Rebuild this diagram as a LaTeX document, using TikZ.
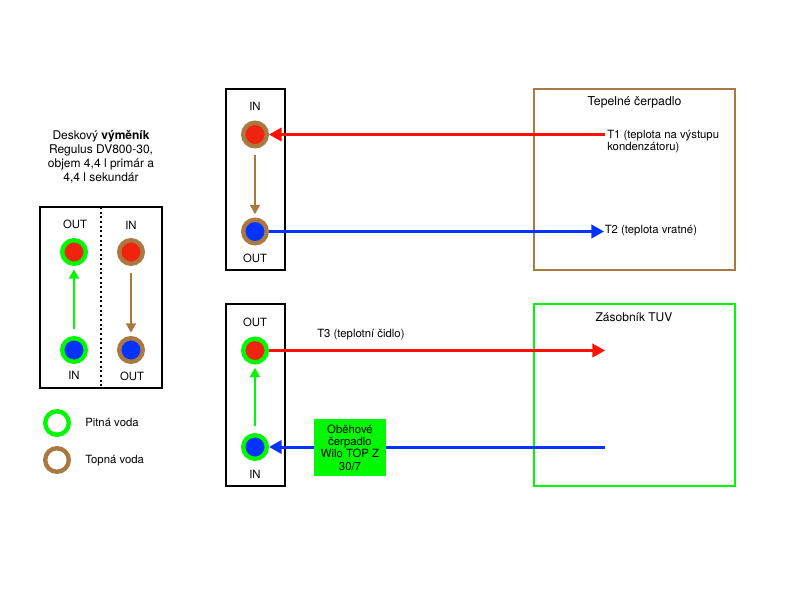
\documentclass[tikz,border=0pt]{standalone}
\usepackage{fontspec}
\setmainfont{TeX Gyre Heros}
\usetikzlibrary{arrows.meta}
\definecolor{cred}{HTML}{F0240E}
\definecolor{lred}{HTML}{FF1000}
\definecolor{cblue}{HTML}{0433FF}
\definecolor{cgreen}{HTML}{00F900}
\definecolor{cbrown}{HTML}{AA7942}
\begin{document}
\begin{tikzpicture}[x=0.75pt,y=-0.75pt,font=\fontsize{8.5}{9.25}\selectfont]
\tikzset{
	port/.style={draw=#1,circle,line width=3.3pt,minimum size=17.7pt,inner sep=0pt},
	rampe/.style={draw=black,line width=1.5pt},
	nadrz/.style={draw=#1,line width=1.5pt},
	teplo/.style={line width=2.25pt,-{Triangle[length=9.5pt,width=10pt]}},
	tok/.style={line width=1.5pt,-{Triangle[length=7pt,width=7.5pt]},shorten <=5pt,shorten >=2.5pt},
	popis/.style={inner sep=0pt,anchor=west,align=left}
}
\useasboundingbox (0,0) rectangle (800,600);

%----------deskovy vymenik------------
\node[inner sep=0pt,align=center,font=\fontsize{9}{10.65}\selectfont] (nazev) at (101,157) {Deskový \textbf{výměník}\\Regulus DV800-30,\\objem 4,4 l primár a\\4,4 l sekundár};
\draw[rampe] (40,207) rectangle (162,388);
\draw[line width=1.5pt,dotted] (101,207) -- (101,388);

\node[port=cgreen,fill=cred] (aout) at (74,252) {};
\node[port=cgreen,fill=cblue] (ain) at (74,350) {};
\node[port=cbrown,fill=cred] (bin) at (131,252) {};
\node[port=cbrown,fill=cblue] (bout) at (131,350) {};
\node (aoutt) at (75,224) {OUT};
\node (aint) at (74,375) {IN};
\node (bint) at (131,225) {IN};
\node (boutt) at (132,376) {OUT};
\draw[tok,cgreen] (ain) -- (aout);
\draw[tok,cbrown] (bin) -- (bout);

%legenda
\node[port=cgreen,fill=white] (lega) at (57,423) {};
\node[port=cbrown,fill=white] (legb) at (57,460) {};
\node[popis] (legat) at (85,422.5) {Pitná voda};
\node[popis] (legbt) at (85,460.5) {Topná voda};

%----------tepelne cerpadlo------------
\draw[rampe] (226,89) rectangle (285,270);
\draw[nadrz=cbrown] (533.5,89) rectangle (735,270);
\node[font=\fontsize{9.2}{10.65}\selectfont] (tcn) at (634.5,102) {Tepelné čerpadlo};

\node[port=cbrown,fill=cred] (cin) at (255,134.5) {};
\node[port=cbrown,fill=cblue] (cout) at (255,231.5) {};
\node (cint) at (255,106) {IN};
\node (coutt) at (255,258) {OUT};
\draw[tok,cbrown] (cin) -- (cout);

\coordinate (t1) at (605,134.5);
\coordinate (t2) at (604,231.5);
\draw[teplo,lred] (t1) -- (cin);
\draw[teplo,cblue] (cout) -- (t2);
\node[popis,anchor=north west] (t1t) at (607,130) {T1 (teplota na výstupu\\kondenzátoru)};
\node[popis] (t2t) at (604.5,230.5) {T2 (teplota vratné)};

%----------zasobnik TUV------------
\draw[rampe] (226,304) rectangle (285,486);
\draw[nadrz=cgreen] (533.5,304) rectangle (735,486);
\node[font=\fontsize{9}{10.65}\selectfont] (zasn) at (634,317) {Zásobník TUV};

\node[port=cgreen,fill=cred] (dout) at (255,350.5) {};
\node[port=cgreen,fill=cblue] (din) at (255,447) {};
\node (doutt) at (255,322) {OUT};
\node (dint) at (255,474) {IN};
\draw[tok,cgreen] (din) -- (dout);

\coordinate (t3) at (605,350.5);
\coordinate (zpet) at (605,447);
\draw[teplo,lred] (dout) -- (t3);
\node[popis] (t3t) at (317,335) {T3 (teplotní čidlo)};

\node[fill=cgreen,inner sep=0pt,minimum width=54pt,minimum height=43pt,align=center] (pumpa) at (350,447.5) {Oběhové\\čerpadlo\\Wilo TOP Z\\30/7};
\draw[line width=2.25pt,cblue] (zpet) -- (pumpa.east |- zpet);
\draw[teplo,cblue] (pumpa.west |- din) -- (din);

\end{tikzpicture}
\end{document}
